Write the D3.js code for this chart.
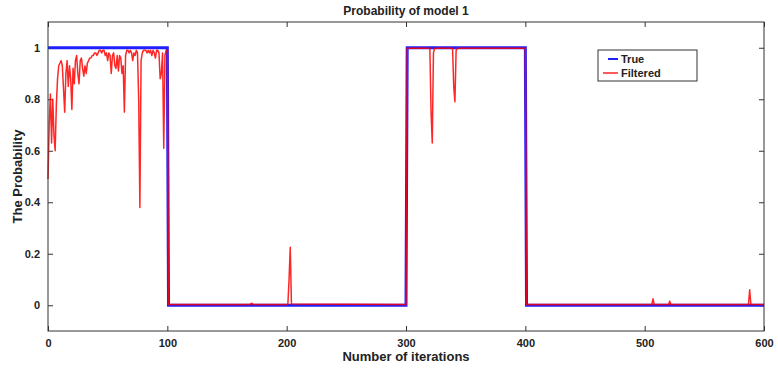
<!DOCTYPE html>
<html>
<head>
<meta charset="utf-8">
<script src="https://cdn.jsdelivr.net/npm/d3@7"></script>
<style>
  body { margin: 0; background: #fff; }
  text { font-family: "Liberation Sans", Arial, sans-serif; font-weight: bold; fill: #222; }
</style>
</head>
<body>
<div id="chart"></div>
<script>
// true model state, as step breakpoints
const trueX = [0, 100, 101, 300, 301, 400, 401, 600]
const trueY = [1, 1, 0, 0, 1, 1, 0, 0]

// filtered probability, iterations 0..100 read point by point, later flat parts by breakpoints
const filtX = [
  0, 1, 2, 3, 4, 5, 6, 7, 8, 9, 10, 11, 12, 13, 14, 15, 16, 17, 18, 19, 20,
  21, 22, 23, 24, 25, 26, 27, 28, 29, 30, 31, 32, 33, 34, 35, 36, 37, 38, 39, 40,
  41, 42, 43, 44, 45, 46, 47, 48, 49, 50, 51, 52, 53, 54, 55, 56, 57, 58, 59, 60,
  61, 62, 63, 64, 65, 66, 67, 68, 69, 70, 71, 72, 73, 74, 75, 76, 77, 78, 79, 80,
  81, 82, 83, 84, 85, 86, 87, 88, 89, 90, 91, 92, 93, 94, 95, 96, 97, 98, 99, 100,
  101, 169, 171, 172, 201, 202, 203, 204, 300, 301, 320, 321, 322, 323, 324,
  339, 340, 341, 342, 343, 400, 401, 506, 507, 508, 520, 521, 522, 587, 588, 589, 600
]
const filtY = [
  0.49, 0.70, 0.82, 0.63, 0.80, 0.66, 0.60, 0.78, 0.88, 0.93, 0.94, 0.95, 0.93, 0.84, 0.75, 0.90, 0.95, 0.85, 0.93, 0.88, 0.76,
  0.92, 0.86, 0.95, 0.97, 0.90, 0.86, 0.95, 0.96, 0.92, 0.89, 0.93, 0.90, 0.94, 0.95, 0.96, 0.96, 0.97, 0.97, 0.98, 0.98,
  0.97, 0.98, 0.99, 0.99, 0.98, 0.99, 0.99, 0.97, 0.98, 0.95, 0.98, 0.97, 0.90, 0.97, 0.98, 0.93, 0.92, 0.97, 0.91, 0.97,
  0.96, 0.90, 0.93, 0.75, 0.97, 0.99, 0.99, 0.98, 0.99, 0.98, 0.95, 0.98, 0.97, 0.99, 0.98, 0.80, 0.38, 0.95, 0.98, 0.99,
  0.99, 0.99, 0.98, 0.99, 0.98, 0.99, 0.97, 0.99, 0.98, 0.96, 0.99, 0.99, 0.98, 0.88, 0.90, 0.98, 0.61, 0.97, 0.99, 0.99,
  0.003, 0.003, 0.008, 0.003, 0.003, 0.10, 0.225, 0.005, 0.003, 0.998, 0.998, 0.75, 0.63, 0.98, 0.998,
  0.998, 0.85, 0.79, 0.99, 0.998, 0.998, 0.003, 0.003, 0.025, 0.003, 0.003, 0.016, 0.003, 0.003, 0.06, 0.003, 0.003
]

const xTicks = [0, 100, 200, 300, 400, 500, 600]
const yTicks = [0, 0.2, 0.4, 0.6, 0.8, 1]

const width = 778
const height = 375
const margin = { top: 22, right: 14, bottom: 44, left: 48 }
const innerWidth = width - margin.left - margin.right
const innerHeight = height - margin.top - margin.bottom

const svg = d3.select('#chart').append('svg').attr('width', width).attr('height', height)
const chart = svg.append('g').attr('transform', `translate(${margin.left},${margin.top})`)

const x = d3.scaleLinear().domain([0, 600]).range([0, innerWidth])
const y = d3.scaleLinear().domain([-0.1, 1.1]).range([innerHeight, 0])

// axes, ticks pointing inward like matlab
const axisStyle = (g) => {
  g.select('.domain').remove()
  g.selectAll('line').attr('stroke', '#333')
  g.selectAll('text').style('font-size', '11px').attr('fill', '#222')
}
const noLabels = (g) => g.selectAll('text').remove()

chart.append('g').attr('transform', `translate(0,${innerHeight})`)
  .call(d3.axisBottom(x).tickValues(xTicks).tickSizeInner(-5).tickPadding(8).tickFormat(d3.format('d')))
  .call(axisStyle)
chart.append('g')
  .call(d3.axisTop(x).tickValues(xTicks).tickSizeInner(-5))
  .call(axisStyle)
  .call(noLabels)
chart.append('g')
  .call(d3.axisLeft(y).tickValues(yTicks).tickSizeInner(-5).tickPadding(8).tickFormat((d) => (d === 0 || d === 1 ? d : d.toFixed(1))))
  .call(axisStyle)
chart.append('g').attr('transform', `translate(${innerWidth},0)`)
  .call(d3.axisRight(y).tickValues(yTicks).tickSizeInner(-5))
  .call(axisStyle)
  .call(noLabels)

const line = d3.line().x((d) => x(d[0])).y((d) => y(d[1]))

chart.append('path')
  .attr('fill', 'none')
  .attr('stroke', '#2020ff')
  .attr('stroke-width', 3)
  .attr('d', line(trueX.map((v, i) => [v, trueY[i]])))

chart.append('path')
  .attr('fill', 'none')
  .attr('stroke', '#ff0000')
  .attr('stroke-opacity', 0.85)
  .attr('stroke-width', 1.5)
  .attr('stroke-linejoin', 'round')
  .attr('d', line(filtX.map((v, i) => [v, filtY[i]])))

chart.append('rect')
  .attr('width', innerWidth)
  .attr('height', innerHeight)
  .attr('fill', 'none')
  .attr('stroke', '#333')
  .attr('stroke-width', 1)

svg.append('text')
  .attr('x', margin.left + innerWidth / 2)
  .attr('y', 15)
  .attr('text-anchor', 'middle')
  .style('font-size', '12px')
  .text('Probability of model 1')

svg.append('text')
  .attr('x', margin.left + innerWidth / 2)
  .attr('y', 361)
  .attr('text-anchor', 'middle')
  .style('font-size', '13px')
  .text('Number of iterations')

svg.append('text')
  .attr('transform', `translate(22,${margin.top + innerHeight / 2}) rotate(-90)`)
  .attr('text-anchor', 'middle')
  .style('font-size', '13px')
  .text('The Probability')

// legend
const legend = svg.append('g').attr('transform', 'translate(598,50)')
legend.append('rect').attr('width', 99).attr('height', 31).attr('fill', '#fff').attr('stroke', '#333')
const legendItems = [
  { name: 'True', color: '#2020ff', width: 2 },
  { name: 'Filtered', color: '#ff0000', width: 1.3 }
]
const li = legend.selectAll('g.item').data(legendItems).join('g')
  .attr('class', 'item')
  .attr('transform', (_, i) => `translate(0,${9 + i * 14})`)
li.append('line')
  .attr('x1', (d, i) => (i === 0 ? 10 : 5))
  .attr('x2', 20)
  .attr('stroke', (d) => d.color)
  .attr('stroke-width', (d) => d.width)
li.append('text')
  .attr('x', 23)
  .attr('y', 4)
  .style('font-size', '11px')
  .text((d) => d.name)
</script>
</body>
</html>
